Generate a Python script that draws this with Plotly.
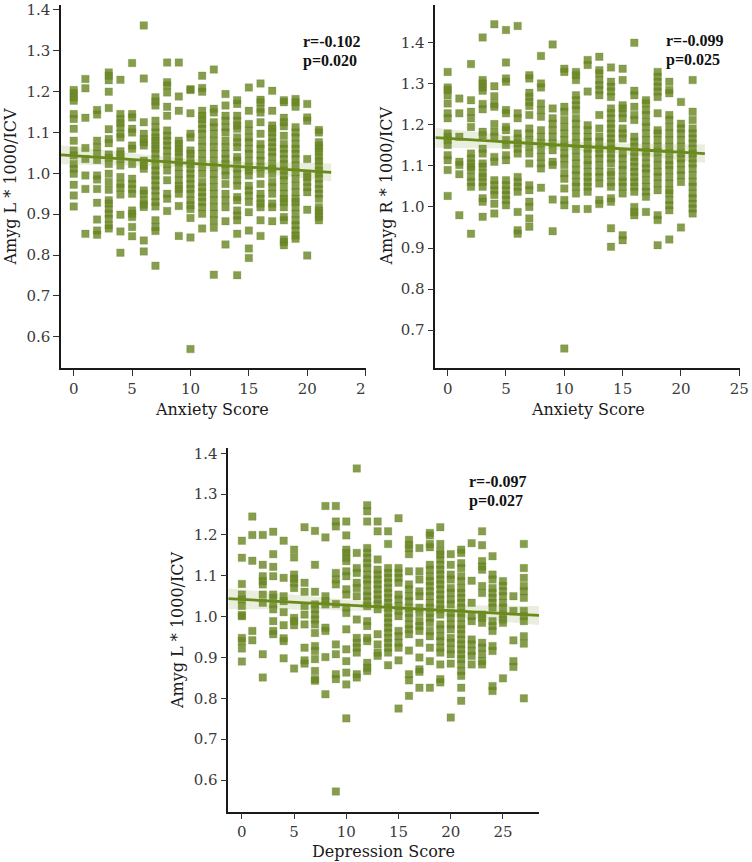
import numpy as np
import plotly.graph_objects as go

# ---------------- data ----------------
anxiety_scores = [0, 1, 2, 3, 4, 5, 6, 7, 8, 9, 10, 11, 12, 13, 14, 15, 16, 17, 18, 19, 20, 21]
depression_scores = [0, 1, 2, 3, 4, 5, 6, 7, 8, 9, 10, 11, 12, 13, 14, 15, 16, 17, 18, 19, 20,
                     21, 22, 23, 24, 25, 26, 27]

amyg_l_by_anxiety = [
    [1.204, 1.196, 1.186, 1.178, 1.145, 1.133, 1.109, 1.080, 1.056, 1.044, 1.023, 1.011, 0.999, 0.972, 0.946, 0.919],
    [1.231, 1.208, 1.136, 1.062, 1.035, 0.995, 0.962, 0.852],
    [1.155, 1.144, 1.080, 1.064, 1.048, 1.033, 0.995, 0.985, 0.962, 0.928, 0.887, 0.860, 0.850],
    [1.247, 1.239, 1.228, 1.200, 1.160, 1.108, 1.084, 1.074, 1.046, 1.038, 1.023, 0.999, 0.979, 0.960, 0.934, 0.926, 0.913, 0.901, 0.889, 0.873, 0.865],
    [1.229, 1.145, 1.133, 1.123, 1.113, 1.097, 1.088, 1.054, 1.046, 1.035, 1.019, 0.991, 0.974, 0.965, 0.948, 0.899, 0.858, 0.806],
    [1.270, 1.145, 1.137, 1.109, 1.100, 1.068, 1.060, 1.023, 0.987, 0.974, 0.962, 0.950, 0.909, 0.901, 0.893, 0.869, 0.846],
    [1.362, 1.232, 1.125, 1.097, 1.084, 1.076, 1.068, 1.031, 1.019, 1.011, 0.958, 0.950, 0.934, 0.924, 0.918, 0.836, 0.809],
    [1.186, 1.176, 1.166, 1.129, 1.113, 1.100, 1.088, 1.080, 1.068, 1.060, 1.048, 1.035, 1.019, 1.007, 0.995, 0.983, 0.970, 0.958, 0.944, 0.930, 0.919, 0.885, 0.869, 0.859, 0.774],
    [1.271, 1.223, 1.215, 1.198, 1.163, 1.141, 1.105, 1.092, 1.080, 1.068, 1.056, 1.040, 1.023, 1.007, 0.983, 0.950, 0.938, 0.908],
    [1.271, 1.188, 1.153, 1.080, 1.072, 1.060, 1.052, 1.040, 1.027, 1.015, 0.999, 0.983, 0.970, 0.962, 0.950, 0.920, 0.847],
    [1.206, 1.204, 1.147, 1.097, 1.088, 1.056, 1.048, 1.035, 1.023, 1.011, 0.999, 0.987, 0.974, 0.962, 0.950, 0.934, 0.922, 0.913, 0.891, 0.843, 0.570],
    [1.239, 1.209, 1.200, 1.153, 1.141, 1.133, 1.121, 1.109, 1.097, 1.080, 1.064, 1.048, 1.031, 1.015, 0.999, 0.979, 0.966, 0.954, 0.942, 0.930, 0.917, 0.901, 0.865],
    [1.254, 1.158, 1.149, 1.125, 1.113, 1.097, 1.080, 1.064, 1.048, 1.031, 1.015, 0.999, 0.983, 0.966, 0.950, 0.934, 0.917, 0.901, 0.885, 0.867, 0.752],
    [1.194, 1.166, 1.141, 1.129, 1.113, 1.100, 1.080, 1.064, 1.048, 1.035, 1.023, 1.007, 0.995, 0.974, 0.950, 0.934, 0.917, 0.883, 0.826],
    [1.179, 1.170, 1.141, 1.129, 1.117, 1.109, 1.088, 1.076, 1.064, 1.040, 1.031, 1.011, 0.999, 0.983, 0.970, 0.942, 0.934, 0.909, 0.897, 0.885, 0.852, 0.751],
    [1.210, 1.153, 1.121, 1.105, 1.088, 1.076, 1.060, 1.048, 1.031, 1.015, 1.007, 0.995, 0.970, 0.958, 0.946, 0.930, 0.905, 0.860, 0.816, 0.793],
    [1.220, 1.180, 1.174, 1.158, 1.149, 1.125, 1.097, 1.072, 1.060, 1.044, 1.031, 1.015, 0.999, 0.974, 0.950, 0.938, 0.926, 0.917, 0.885, 0.847],
    [1.202, 1.153, 1.117, 1.109, 1.100, 1.088, 1.076, 1.064, 1.052, 1.040, 1.023, 1.011, 0.999, 0.979, 0.966, 0.950, 0.926, 0.917, 0.883],
    [1.179, 1.174, 1.136, 1.125, 1.115, 1.092, 1.072, 1.060, 1.048, 1.035, 1.023, 1.007, 0.995, 0.983, 0.966, 0.950, 0.938, 0.930, 0.917, 0.893, 0.885, 0.838, 0.832, 0.824],
    [1.182, 1.174, 1.163, 1.113, 1.100, 1.088, 1.072, 1.060, 1.048, 1.035, 1.019, 1.003, 0.987, 0.970, 0.954, 0.938, 0.930, 0.917, 0.901, 0.885, 0.873, 0.860, 0.848, 0.840],
    [1.170, 1.137, 1.129, 1.035, 0.999, 0.991, 0.979, 0.966, 0.954, 0.911, 0.799],
    [1.106, 1.100, 1.076, 1.068, 1.060, 1.052, 1.040, 1.031, 1.019, 1.007, 0.999, 0.987, 0.974, 0.962, 0.950, 0.938, 0.917, 0.909, 0.901, 0.893, 0.885],
]

amyg_r_by_anxiety = [
    [1.329, 1.291, 1.285, 1.272, 1.252, 1.228, 1.216, 1.179, 1.171, 1.163, 1.151, 1.126, 1.114, 1.090, 1.027],
    [1.264, 1.228, 1.171, 1.110, 1.102, 1.080, 0.980],
    [1.348, 1.260, 1.232, 1.216, 1.195, 1.130, 1.118, 1.106, 1.098, 1.090, 1.073, 1.061, 1.049, 0.935],
    [1.413, 1.309, 1.301, 1.291, 1.283, 1.251, 1.238, 1.183, 1.175, 1.142, 1.130, 1.106, 1.098, 1.082, 1.073, 1.061, 1.049, 1.021, 1.013, 0.976],
    [1.445, 1.294, 1.270, 1.251, 1.244, 1.202, 1.183, 1.171, 1.122, 1.110, 1.065, 1.053, 1.041, 1.029, 1.008, 0.984],
    [1.431, 1.352, 1.313, 1.305, 1.236, 1.228, 1.195, 1.187, 1.163, 1.151, 1.126, 1.114, 1.065, 1.053, 1.041, 1.029, 1.017, 1.004],
    [1.441, 1.228, 1.216, 1.179, 1.167, 1.155, 1.142, 1.130, 1.073, 1.061, 1.049, 1.037, 0.988, 0.943, 0.935],
    [1.321, 1.313, 1.278, 1.268, 1.256, 1.246, 1.224, 1.191, 1.179, 1.163, 1.147, 1.130, 1.106, 1.053, 1.041, 1.013, 1.000, 0.972, 0.952],
    [1.368, 1.301, 1.291, 1.252, 1.236, 1.220, 1.187, 1.171, 1.155, 1.138, 1.122, 1.106, 1.094, 1.047],
    [1.396, 1.240, 1.216, 1.203, 1.187, 1.171, 1.155, 1.138, 1.110, 1.102, 1.018, 0.941],
    [1.337, 1.329, 1.244, 1.232, 1.212, 1.195, 1.179, 1.163, 1.147, 1.130, 1.118, 1.102, 1.082, 1.069, 1.045, 1.017, 1.004, 0.655],
    [1.329, 1.321, 1.309, 1.272, 1.260, 1.248, 1.236, 1.216, 1.203, 1.187, 1.171, 1.155, 1.138, 1.122, 1.106, 1.090, 1.077, 1.061, 1.049, 1.033, 0.995],
    [1.358, 1.346, 1.281, 1.199, 1.187, 1.171, 1.159, 1.142, 1.130, 1.114, 1.102, 1.086, 1.073, 1.061, 1.049, 1.037, 0.995],
    [1.366, 1.333, 1.325, 1.309, 1.297, 1.285, 1.272, 1.224, 1.191, 1.171, 1.159, 1.142, 1.130, 1.118, 1.102, 1.086, 1.073, 1.057, 1.017, 1.007],
    [1.340, 1.305, 1.293, 1.281, 1.268, 1.240, 1.228, 1.216, 1.203, 1.191, 1.179, 1.167, 1.155, 1.142, 1.130, 1.118, 1.106, 1.086, 1.077, 1.061, 1.049, 1.021, 1.013, 0.948, 0.903],
    [1.337, 1.309, 1.248, 1.240, 1.228, 1.216, 1.191, 1.179, 1.167, 1.130, 1.118, 1.102, 1.090, 1.073, 1.061, 1.049, 1.033, 0.931, 0.919],
    [1.400, 1.283, 1.272, 1.244, 1.224, 1.212, 1.171, 1.159, 1.147, 1.134, 1.122, 1.110, 1.098, 1.086, 1.073, 1.061, 1.049, 1.037, 1.000, 0.988, 0.980],
    [1.260, 1.252, 1.236, 1.224, 1.207, 1.195, 1.179, 1.163, 1.147, 1.134, 1.122, 1.106, 1.094, 1.082, 1.065, 1.049, 1.037, 1.025, 0.988],
    [1.329, 1.317, 1.305, 1.293, 1.281, 1.268, 1.228, 1.187, 1.179, 1.163, 1.147, 1.134, 1.118, 1.102, 1.086, 1.073, 1.057, 1.041, 0.980, 0.968, 0.907],
    [1.305, 1.285, 1.277, 1.224, 1.212, 1.195, 1.179, 1.163, 1.147, 1.130, 1.114, 1.102, 1.090, 1.073, 1.057, 1.041, 1.033, 1.017, 1.004, 0.992, 0.921],
    [1.256, 1.203, 1.191, 1.179, 1.163, 1.147, 1.130, 1.118, 1.106, 1.090, 1.077, 1.061, 0.950],
    [1.309, 1.232, 1.212, 1.191, 1.179, 1.167, 1.155, 1.142, 1.130, 1.118, 1.106, 1.094, 1.077, 1.061, 1.049, 1.033, 1.021, 1.008, 0.996, 0.984],
]

amyg_l_by_depression = [
    [1.186, 1.144, 1.080, 1.054, 1.042, 1.026, 1.004, 1.001, 0.948, 0.940, 0.922, 0.890],
    [1.245, 1.200, 1.137, 0.965, 0.942],
    [1.200, 1.127, 1.099, 1.087, 1.079, 1.054, 1.034, 0.908, 0.851],
    [1.208, 1.153, 1.122, 1.099, 1.054, 1.046, 1.031, 1.018, 0.989, 0.965, 0.957],
    [1.186, 1.095, 1.050, 1.038, 1.011, 0.979, 0.947, 0.940, 0.898],
    [1.164, 1.145, 1.103, 1.093, 1.083, 1.070, 0.997, 0.989, 0.979, 0.873],
    [1.219, 1.083, 1.061, 1.026, 1.005, 0.981, 0.924, 0.893, 0.885],
    [1.210, 1.127, 1.061, 1.030, 1.018, 1.005, 0.993, 0.981, 0.960, 0.928, 0.916, 0.896, 0.867, 0.847, 0.843],
    [1.271, 1.194, 1.050, 1.038, 1.030, 0.973, 0.965, 0.901, 0.810],
    [1.271, 1.233, 1.221, 1.107, 1.091, 1.079, 1.031, 0.932, 0.908, 0.859, 0.847, 0.572],
    [1.233, 1.199, 1.164, 1.156, 1.144, 1.136, 1.111, 1.099, 1.067, 1.054, 1.022, 1.009, 0.969, 0.920, 0.891, 0.863, 0.834, 0.751],
    [1.363, 1.156, 1.119, 1.107, 1.083, 1.070, 1.050, 0.993, 0.948, 0.936, 0.924, 0.912, 0.859, 0.851],
    [1.273, 1.258, 1.233, 1.168, 1.156, 1.144, 1.131, 1.119, 1.103, 1.091, 1.079, 1.062, 1.050, 1.038, 1.026, 0.989, 0.977, 0.948, 0.940, 0.887, 0.875, 0.867],
    [1.233, 1.209, 1.140, 1.115, 1.103, 1.091, 1.079, 1.067, 1.054, 1.042, 1.030, 1.018, 0.957, 0.932, 0.912, 0.904],
    [1.209, 1.178, 1.119, 1.107, 1.095, 1.083, 1.070, 1.058, 1.046, 1.034, 1.022, 1.009, 0.997, 0.985, 0.973, 0.961, 0.948, 0.936, 0.924, 0.912, 0.881],
    [1.241, 1.119, 1.107, 1.095, 1.083, 1.054, 1.042, 1.026, 1.014, 1.001, 0.965, 0.952, 0.936, 0.924, 0.893, 0.775],
    [1.188, 1.176, 1.168, 1.153, 1.111, 1.079, 1.067, 1.050, 1.038, 1.022, 1.009, 0.997, 0.981, 0.969, 0.957, 0.917, 0.859, 0.844, 0.806],
    [1.168, 1.111, 1.091, 1.062, 1.050, 1.022, 1.009, 0.989, 0.977, 0.965, 0.936, 0.900, 0.871, 0.865, 0.826],
    [1.205, 1.199, 1.178, 1.170, 1.127, 1.115, 1.099, 1.087, 1.075, 1.062, 1.050, 1.034, 1.022, 1.009, 0.997, 0.985, 0.965, 0.952, 0.924, 0.891, 0.826],
    [1.219, 1.178, 1.160, 1.152, 1.140, 1.127, 1.115, 1.103, 1.091, 1.079, 1.067, 1.054, 1.042, 1.030, 1.018, 1.005, 0.981, 0.969, 0.952, 0.940, 0.924, 0.912, 0.883, 0.847, 0.839],
    [1.153, 1.127, 1.103, 1.091, 1.070, 1.058, 1.042, 1.030, 1.009, 0.997, 0.981, 0.969, 0.948, 0.936, 0.920, 0.908, 0.885, 0.753],
    [1.164, 1.156, 1.131, 1.119, 1.099, 1.087, 1.070, 1.058, 1.046, 1.034, 1.022, 1.009, 0.997, 0.981, 0.969, 0.957, 0.944, 0.932, 0.920, 0.908, 0.896, 0.883, 0.867, 0.855, 0.826, 0.794],
    [1.180, 1.088, 1.034, 1.001, 0.989, 0.944, 0.932, 0.916, 0.904, 0.883],
    [1.209, 1.175, 1.136, 1.123, 1.115, 1.075, 1.058, 1.005, 0.997, 0.985, 0.936, 0.924, 0.908, 0.891, 0.883],
    [1.148, 1.103, 1.091, 1.070, 1.058, 1.046, 1.034, 1.022, 0.989, 0.977, 0.965, 0.928, 0.916, 0.830, 0.818],
    [1.087, 1.075, 1.062, 1.050, 1.034, 1.022, 1.005, 0.993, 0.985, 0.849],
    [1.050, 1.014, 0.942, 0.891, 0.877],
    [1.178, 1.119, 1.095, 1.075, 1.062, 1.046, 1.014, 1.001, 0.989, 0.952, 0.934, 0.800],
]

stat_lines = [("r=-0.102", "p=0.020"), ("r=-0.099", "p=0.025"), ("r=-0.097", "p=0.027")]
x_titles = ["Anxiety Score", "Anxiety Score", "Depression Score"]
y_titles = ["Amyg L * 1000/ICV", "Amyg R * 1000/ICV", "Amyg L * 1000/ICV"]

# ---------------- styling ----------------
W, H = 752, 862
POINT = "rgba(104,132,34,0.80)"
LINE = "rgb(106,138,28)"
BAND = "rgba(120,150,50,0.16)"
SERIF = "DejaVu Serif"
TIMES = "Liberation Serif"


def px_x(p):
    return p / W


def px_y(p):
    return 1 - p / H


panels = [
    dict(scores=anxiety_scores, values=amyg_l_by_anxiety, ax="x", ay="y",
         dom_x=(61.0, 365.6), dom_y=(5.0, 368.3), xr=(-1.09, 25.0), yr=(0.523, 1.412),
         xticks=[0, 5, 10, 15, 20, 25], xticktext=["0", "5", "10", "15", "20", "2\u2007"],
         yticks=[0.6, 0.7, 0.8, 0.9, 1.0, 1.1, 1.2, 1.3, 1.4],
         stat_pos=(301, 41.5, 60.5), xt_pos=(212, 409), yt_pos=(10, 186.5)),
    dict(scores=anxiety_scores, values=amyg_r_by_anxiety, ax="x2", ay="y2",
         dom_x=(435.3, 740.0), dom_y=(5.0, 368.3), xr=(-1.06, 25.06), yr=(0.607, 1.492),
         xticks=[0, 5, 10, 15, 20, 25], xticktext=["0", "5", "10", "15", "20", "25"],
         yticks=[0.7, 0.8, 0.9, 1.0, 1.1, 1.2, 1.3, 1.4],
         stat_pos=(664, 40.5, 60), xt_pos=(588, 409), yt_pos=(386, 186.5)),
    dict(scores=depression_scores, values=amyg_l_by_depression, ax="x3", ay="y3",
         dom_x=(228.3, 539.0), dom_y=(448.0, 811.7), xr=(-1.3, 28.45), yr=(0.5224, 1.413),
         xticks=[0, 5, 10, 15, 20, 25], xticktext=["0", "5", "10", "15", "20", "25"],
         yticks=[0.6, 0.7, 0.8, 0.9, 1.0, 1.1, 1.2, 1.3, 1.4],
         stat_pos=(467, 481.5, 501), xt_pos=(383.5, 851), yt_pos=(177, 630)),
]

fig = go.Figure()
annotations = []
layout_axes = {}

for i, p in enumerate(panels):
    xs = np.array([s for s, col in zip(p["scores"], p["values"]) for _ in col], dtype=float)
    ys = np.array([v for col in p["values"] for v in col], dtype=float)

    # OLS fit + 95% CI of the mean
    n = len(xs)
    slope, intercept = np.polyfit(xs, ys, 1)
    resid = ys - (slope * xs + intercept)
    s = np.sqrt(np.sum(resid ** 2) / (n - 2))
    xbar = xs.mean()
    sxx = np.sum((xs - xbar) ** 2)
    span = xs.max() - xs.min()
    lo, hi = xs.min() - 0.05 * span, xs.max() + 0.05 * span
    if i == 0:
        lo = p["xr"][0]
    if i == 2:
        lo, hi = p["xr"]
    grid = np.linspace(lo, hi, 100)
    fit = slope * grid + intercept
    se = s * np.sqrt(1 / n + (grid - xbar) ** 2 / sxx)
    upper, lower = fit + 1.96 * se, fit - 1.96 * se

    fig.add_trace(go.Scatter(
        x=xs, y=ys, mode="markers", xaxis=p["ax"], yaxis=p["ay"],
        marker=dict(symbol="square", size=7.5, color=POINT,
                    line=dict(width=0.6, color="rgba(104,132,34,0.45)")),
        showlegend=False, hoverinfo="skip"))
    fig.add_trace(go.Scatter(
        x=np.concatenate([grid, grid[::-1]]), y=np.concatenate([upper, lower[::-1]]),
        fill="toself", fillcolor=BAND, line=dict(width=0), mode="lines",
        xaxis=p["ax"], yaxis=p["ay"], showlegend=False, hoverinfo="skip"))
    fig.add_trace(go.Scatter(
        x=grid, y=fit, mode="lines", line=dict(color=LINE, width=2.8),
        xaxis=p["ax"], yaxis=p["ay"], showlegend=False, hoverinfo="skip"))

    suffix = "" if i == 0 else str(i + 1)
    common = dict(showline=True, linecolor="#1a1a1a", linewidth=1.5, ticks="outside",
                  ticklen=6, tickwidth=1.2, tickcolor="#333333", showgrid=False, zeroline=False,
                  tickfont=dict(family=SERIF, size=15, color="#3a3a3a"), automargin=False,
                  fixedrange=True)
    layout_axes["xaxis" + suffix] = dict(
        domain=[px_x(p["dom_x"][0]), px_x(p["dom_x"][1])], range=list(p["xr"]),
        tickmode="array", tickvals=p["xticks"], ticktext=p["xticktext"],
        anchor="y" + suffix, **common)
    layout_axes["yaxis" + suffix] = dict(
        domain=[px_y(p["dom_y"][1]), px_y(p["dom_y"][0])], range=list(p["yr"]),
        tickmode="array", tickvals=p["yticks"], ticktext=[f"{v:.1f}" for v in p["yticks"]],
        anchor="x" + suffix, **common)

    sx, ry, py = p["stat_pos"]
    for txt, yy in zip(stat_lines[i], (ry, py)):
        annotations.append(dict(
            x=px_x(sx), y=px_y(yy), xref="paper", yref="paper", xanchor="left", yanchor="middle",
            text=f"<b>{txt}</b>", showarrow=False,
            font=dict(family=TIMES, size=16, color="#111111")))
    annotations.append(dict(
        x=px_x(p["xt_pos"][0]), y=px_y(p["xt_pos"][1]), xref="paper", yref="paper",
        xanchor="center", yanchor="middle", text=x_titles[i], showarrow=False,
        font=dict(family=SERIF, size=16, color="#1a1a1a")))
    annotations.append(dict(
        x=px_x(p["yt_pos"][0]), y=px_y(p["yt_pos"][1]), xref="paper", yref="paper",
        xanchor="center", yanchor="middle", text=y_titles[i], textangle=-90, showarrow=False,
        font=dict(family=SERIF, size=16, color="#1a1a1a")))

fig.update_layout(
    width=W, height=H, margin=dict(l=0, r=0, t=0, b=0),
    paper_bgcolor="white", plot_bgcolor="white",
    annotations=annotations, showlegend=False, **layout_axes)

fig.write_html("out.html", config={"displayModeBar": False},
               post_script="document.body.style.margin='0';document.body.style.overflow='hidden';")
